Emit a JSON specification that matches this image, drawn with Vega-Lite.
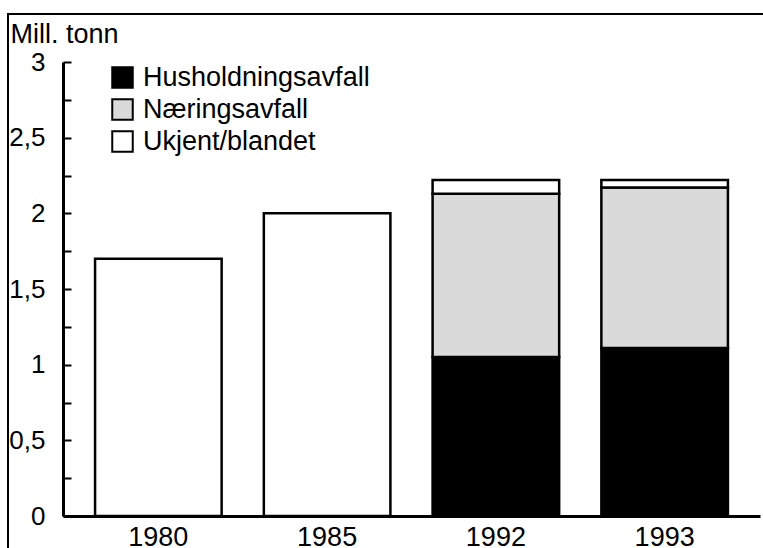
{
  "$schema": "https://vega.github.io/schema/vega-lite/v6.json",
  "autosize": "none",
  "width": 760,
  "height": 540,
  "padding": {"left": 8, "top": 14, "right": -5, "bottom": -6},
  "background": "white",
  "config": {
    "view": {"stroke": "black", "strokeWidth": 2},
    "font": "Liberation Sans"
  },
  "data": {
    "values": [
      {"year": "1980", "type": "Ukjent/blandet", "value": 1.70},
      {"year": "1985", "type": "Ukjent/blandet", "value": 2.00},
      {"year": "1992", "type": "Husholdningsavfall", "value": 1.05},
      {"year": "1992", "type": "Næringsavfall", "value": 1.08},
      {"year": "1992", "type": "Ukjent/blandet", "value": 0.09},
      {"year": "1993", "type": "Husholdningsavfall", "value": 1.11},
      {"year": "1993", "type": "Næringsavfall", "value": 1.06},
      {"year": "1993", "type": "Ukjent/blandet", "value": 0.05}
    ]
  },
  "mark": {"type": "bar", "stroke": "black", "strokeWidth": 2.5},
  "encoding": {
    "x": {
      "field": "year",
      "type": "nominal",
      "scale": {"range": [55, 752], "paddingInner": 0.25, "paddingOuter": 0.19},
      "axis": {
        "title": null,
        "labelAngle": 0,
        "offset": -38,
        "tickSize": -8,
        "tickWidth": 2,
        "tickColor": "black",
        "domainColor": "black",
        "domainWidth": 3,
        "labelPadding": 16,
        "labelFontSize": 27,
        "labelColor": "black"
      }
    },
    "y": {
      "field": "value",
      "type": "quantitative",
      "stack": "zero",
      "scale": {"domain": [0, 3], "range": [502, 48], "nice": false, "zero": true},
      "axis": {
        "values": [0, 0.25, 0.5, 0.75, 1, 1.25, 1.5, 1.75, 2, 2.25, 2.5, 2.75, 3],
        "labelExpr": "datum.value * 2 % 1 == 0 ? replace(format(datum.value, '~g'), '.', ',') : ''",
        "labelOverlap": false,
        "offset": -55,
        "tickSize": -8,
        "tickWidth": 2,
        "tickColor": "black",
        "domainColor": "black",
        "domainWidth": 3,
        "labelPadding": 26,
        "labelFontSize": 26,
        "labelColor": "black",
        "grid": false,
        "title": "Mill. tonn",
        "titleAngle": 0,
        "titleAlign": "left",
        "titleBaseline": "alphabetic",
        "titleX": -53,
        "titleY": 28,
        "titleFontSize": 27,
        "titleFontWeight": "normal",
        "titleColor": "black"
      }
    },
    "fill": {
      "field": "type",
      "type": "nominal",
      "scale": {
        "domain": ["Husholdningsavfall", "Næringsavfall", "Ukjent/blandet"],
        "range": ["black", "#dadada", "white"]
      },
      "legend": {
        "title": null,
        "orient": "none",
        "legendX": 101,
        "legendY": 50,
        "symbolType": "square",
        "symbolSize": 420,
        "symbolStrokeColor": "black",
        "symbolStrokeWidth": 2,
        "symbolOpacity": 1,
        "labelFontSize": 27,
        "labelColor": "black",
        "labelLimit": 400,
        "labelOffset": 7,
        "rowPadding": 3
      }
    },
    "order": {"field": "type", "sort": "ascending"}
  }
}
